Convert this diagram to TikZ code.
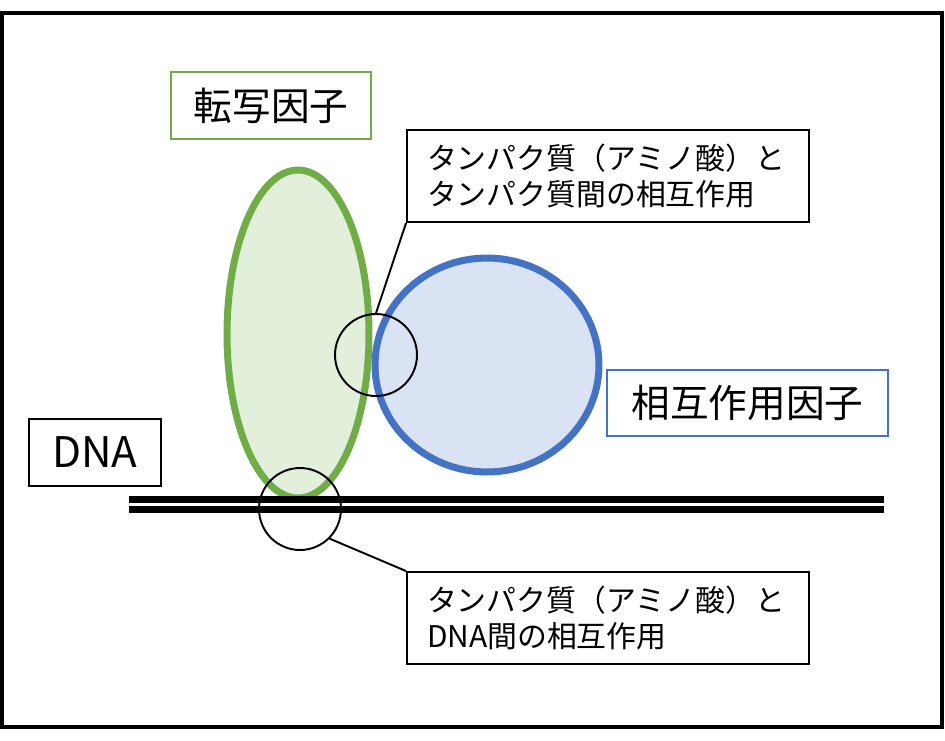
\documentclass[tikz,border=0pt]{standalone}
\usepackage{fontspec}
\setmainfont{Noto Sans CJK JP}
\definecolor{tfgreen}{HTML}{70AD47}
\definecolor{tffill}{HTML}{E2EFDA}
\definecolor{ifblue}{HTML}{4472C4}
\definecolor{iffill}{HTML}{DAE3F3}

\begin{document}
\begin{tikzpicture}[x=0.02cm, y=-0.02cm,
    tag/.style = {draw, line width=0.8pt, inner sep=0pt, font=\fontsize{22}{26}\selectfont},
    note/.style = {draw, line width=1.1pt, text width=7.24cm, inner xsep=0.4cm, minimum height=1.84cm, align=left, font=\fontsize{17}{21}\selectfont},
    spot/.style = {draw, circle, line width=1.1pt, minimum size=1.64cm}]
    \useasboundingbox (0,0) rectangle (945,740);
    \draw[line width=0.08cm] (2,13) rectangle (942,727);

    \draw[tfgreen, fill=tffill, line width=0.14cm] (298,334) ellipse [x radius=1.42cm, y radius=3.28cm];
    \draw[ifblue, fill=iffill, line width=0.14cm] (487,365) ellipse [x radius=2.24cm, y radius=2.14cm];

    \coordinate (S1) at (129,499.5);
    \coordinate (E1) at (884,499.5);
    \coordinate (S2) at (129,509.5);
    \coordinate (E2) at (884,509.5);
    \draw[line width=0.14cm] (S1) -- (E1);
    \draw[line width=0.14cm] (S2) -- (E2);

    \node[tag, draw=tfgreen, minimum width=4cm, minimum height=1.34cm] (TF) at (271,105.5) {転写因子};
    \node[tag, draw=ifblue, minimum width=5.62cm, minimum height=1.32cm] (IF) at (747.5,403) {相互作用因子};
    \node[tag, draw=black, line width=1.1pt, minimum width=2.64cm, minimum height=1.34cm, font=\fontsize{24}{28}\selectfont] (DNA) at (95,452.5) {DNA};

    \node[spot] (P1) at (376,355) {};
    \node[spot] (P2) at (300,509) {};

    \node[note] (N1) at (608,176) {タンパク質（アミノ酸）と\\タンパク質間の相互作用};
    \node[note] (N2) at (608,618) {タンパク質（アミノ酸）と\\DNA間の相互作用};

    \draw[line width=1.1pt] (N1.south west) -- (P1.north);
    \draw[line width=1.1pt] (P2.-45) -- (N2.north west);
\end{tikzpicture}
\end{document}
